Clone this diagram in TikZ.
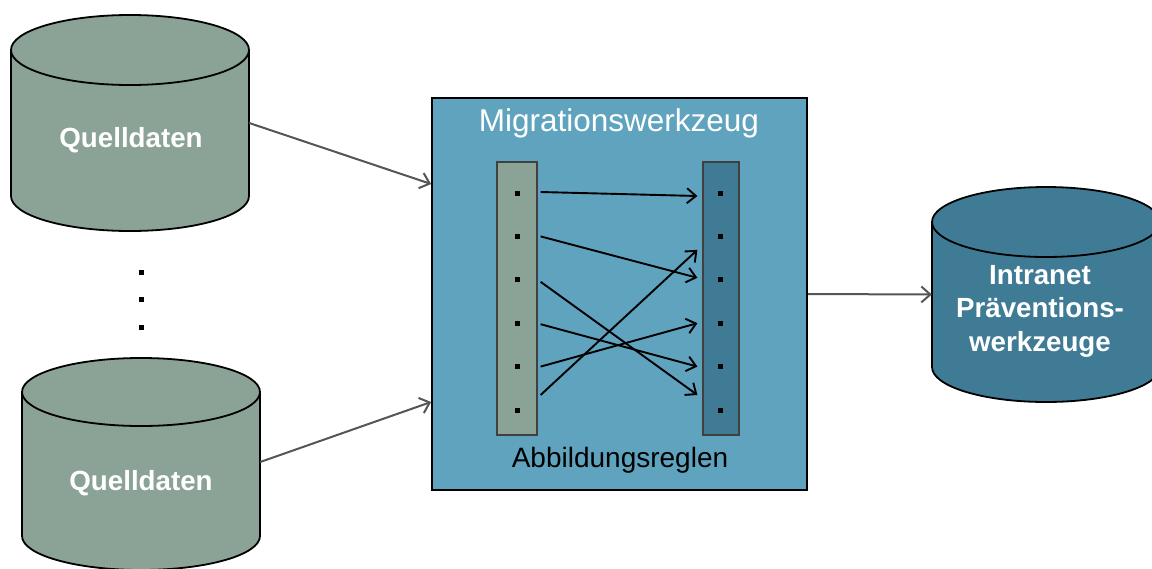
\documentclass[tikz,border=0pt]{standalone}
\usepackage{fontspec}
\setmainfont{Liberation Sans}
\usetikzlibrary{arrows.meta,calc}
\definecolor{qgreen}{RGB}{139,162,150}
\definecolor{boxblue}{RGB}{95,163,190}
\definecolor{darkblue}{RGB}{63,123,149}
\definecolor{flowgray}{RGB}{85,85,85}
\tikzset{
  cylbody/.style={draw=none,inner sep=0pt,minimum width=#1},
  cyltext/.style={text=white,font=\fontsize{27.7}{33.5}\selectfont\bfseries,align=center},
  flow/.style={draw=flowgray,line width=2pt,-{Straight Barb[length=9pt,width=16pt,line width=2pt]}},
  maparrow/.style={draw=black,line width=1.9pt,-{Straight Barb[length=9pt,width=15pt,line width=1.9pt]}},
  dotnode/.style={fill=black,inner sep=0pt,minimum size=5pt,draw=none},
  bar/.style={draw=black!75,line width=1.2pt,inner sep=0pt},
}
\newcommand{\mycyl}[6]{% cx, rx, yt, yb, ry, color
  \filldraw[fill=#6,draw=black,line width=1.8pt] (#1,#4) ellipse [x radius=#2pt, y radius=#5pt];
  \fill[#6] (#1-#2,#3) rectangle (#1+#2,#4);
  \draw[black,line width=1.8pt] (#1-#2,#3) -- (#1-#2,#4) (#1+#2,#3) -- (#1+#2,#4);
  \filldraw[fill=#6,draw=black,line width=1.8pt] (#1,#3) ellipse [x radius=#2pt, y radius=#5pt];
}
\begin{document}
\begin{tikzpicture}[x=1pt,y=-1pt]
\useasboundingbox (0,0) rectangle (1152,568);
\clip (0,0) rectangle (1152,568);

% cylinders
\mycyl{130}{119}{50}{196}{35}{qgreen}
\mycyl{141}{119}{392}{536}{34}{qgreen}
\mycyl{1046}{114}{222}{367}{35}{darkblue}

\node[cylbody=238pt,minimum height=146pt] (q1) at (130,123) {};
\node[cylbody=238pt,minimum height=144pt] (q2) at (141,464) {};
\node[cylbody=228pt,minimum height=145pt] (ip) at (1046,294.5) {};

\node[cyltext] (q1t) at (131,140) {Quelldaten};
\node[cyltext] (q2t) at (141,483) {Quelldaten};
\node[cyltext] (ipt) at (1040,311) {Intranet\\Präventions-\\werkzeuge};

% vertical dots
\node[dotnode,minimum size=5pt] (d1) at (141,272) {};
\node[dotnode,minimum size=5pt] (d2) at (141,299) {};
\node[dotnode,minimum size=5pt] (d3) at (141,327) {};

% migration box
\node[draw=black,fill=boxblue,line width=1.8pt,minimum width=375pt,minimum height=392pt,inner sep=0pt] (box) at (619.5,294) {};
\node[text=white,font=\fontsize{31.5}{36}\selectfont] (title) at (619,123) {Migrationswerkzeug};
\node[text=black,font=\fontsize{28}{33}\selectfont] (abb) at (620,460) {Abbildungsreglen};

\node[bar,fill=qgreen,minimum width=40pt,minimum height=273pt] (lbar) at (517,298.5) {};
\node[bar,fill=darkblue,minimum width=36pt,minimum height=273pt] (rbar) at (721,298.5) {};

\foreach \i/\y in {1/193,2/236.4,3/279.8,4/323.2,5/366.6,6/410}{
  \node[dotnode] (l\i) at (517,\y) {};
  \node[dotnode] (r\i) at (720,\y) {};
}
\coordinate (la) at ($(l5)!0.654!(l6)$);
\coordinate (ra) at ($(r5)!0.654!(r6)$);
\coordinate (rb) at ($(r2)!0.31!(r3)$);

\draw[maparrow] ([xshift=3pt,yshift=1pt]lbar.east |- l1) -- ([xshift=-5pt,yshift=-3pt]rbar.west |- r1);
\draw[maparrow] ([xshift=3pt]lbar.east |- l2) -- ([xshift=-5pt,yshift=2pt]rbar.west |- r3);
\draw[maparrow] ([xshift=3pt,yshift=-2pt]lbar.east |- l3) -- ([xshift=-5pt]rbar.west |- ra);
\draw[maparrow] ([xshift=3pt,yshift=-1pt]lbar.east |- l4) -- ([xshift=-5pt]rbar.west |- r5);
\draw[maparrow] ([xshift=3pt]lbar.east |- l5) -- ([xshift=-5pt]rbar.west |- r4);
\draw[maparrow] ([xshift=3pt]lbar.east |- la) -- ([xshift=-5pt]rbar.west |- rb);

% flows
\draw[flow] (q1.east) -- ([yshift=110pt]box.west);
\draw[flow] ([yshift=2pt]q2.east) -- ([yshift=-108pt]box.west);
\draw[flow] (box.east) -- (ip.west);
\end{tikzpicture}
\end{document}
